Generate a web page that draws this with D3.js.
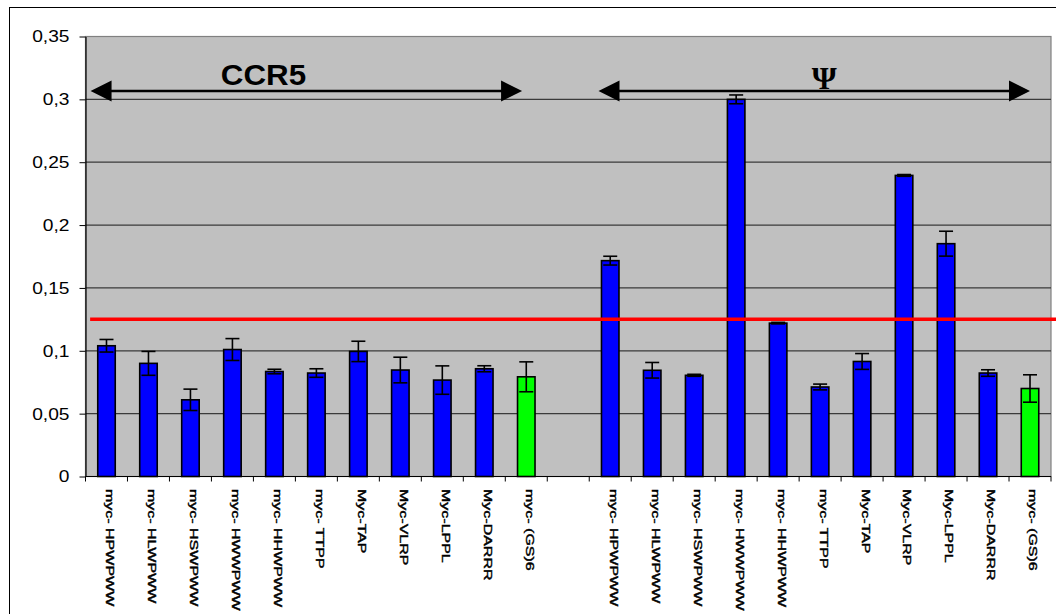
<!DOCTYPE html>
<html>
<head>
<meta charset="utf-8">
<script src="https://cdn.jsdelivr.net/npm/d3@7"></script>
<style>
  html, body { margin: 0; padding: 0; background: #fff; }
  svg { display: block; }
  text { font-family: "Liberation Sans", Arial, sans-serif; fill: #000; }
</style>
</head>
<body>
<svg id="chart" width="1056" height="614"></svg>
<script>
// Peptide constructs, same list for both targets
const peptides = [
  "myc- HPWPWW", "myc- HLWPWW", "myc- HSWPWW", "myc- HWWPWW", "myc- HHWPWW",
  "myc- TTPP", "Myc-TAP", "Myc-VLRP", "Myc-LPPL", "Myc-DARRR", "myc- (GS)6"
];
const groups = ["CCR5", "\u03A8"];

// Mean signal and error bar half-width per construct
const ccr5Values = [0.104, 0.090, 0.061, 0.101, 0.0835, 0.0823, 0.0995, 0.0847, 0.0767, 0.0857, 0.0793];
const ccr5Errors = [0.005, 0.0095, 0.0085, 0.0087, 0.0018, 0.0034, 0.0081, 0.0102, 0.0113, 0.0024, 0.0119];
const psiValues  = [0.1717, 0.0845, 0.0805, 0.300, 0.1220, 0.0712, 0.0915, 0.2395, 0.1852, 0.0823, 0.0700];
const psiErrors  = [0.0035, 0.0062, 0.0008, 0.0035, 0.0006, 0.0023, 0.0063, 0.0007, 0.0099, 0.0026, 0.0109];

// Control construct drawn in green
const controlPeptide = "myc- (GS)6";
const threshold = 0.125;
const yTicks = [0, 0.05, 0.10, 0.15, 0.20, 0.25, 0.30, 0.35];

// Rows: group 1, an empty slot, group 2
const rows = [];
peptides.forEach((p, i) => rows.push({ key: "a" + i, label: p, value: ccr5Values[i], err: ccr5Errors[i] }));
rows.push({ key: "gap", label: "", value: null, err: null });
peptides.forEach((p, i) => rows.push({ key: "b" + i, label: p, value: psiValues[i], err: psiErrors[i] }));

const svg = d3.select("#chart");
const W = 1056;
const plot = { left: 85.5, right: 1051, top: 36.5, bottom: 476.5 };

const x = d3.scaleBand().domain(rows.map(r => r.key)).range([plot.left, plot.right]).paddingInner(0).paddingOuter(0);
const xi = d3.scaleLinear().domain([0, rows.length]).range([plot.left, plot.right]); // slot-index positions
const y = d3.scaleLinear().domain([0, 0.35]).range([plot.bottom, plot.top]);

// Outer chart frame
svg.append("rect").attr("x", 9.5).attr("y", 7.5).attr("width", 1200).attr("height", 1200)
  .attr("fill", "none").attr("stroke", "#000").attr("stroke-width", 1);

// Plot area
svg.append("rect").attr("x", plot.left).attr("y", plot.top)
  .attr("width", plot.right - plot.left).attr("height", plot.bottom - plot.top)
  .attr("fill", "#C0C0C0").attr("stroke", "#808080").attr("stroke-width", 1.2);

// Horizontal gridlines
svg.append("g").selectAll("line").data(yTicks.filter(t => t > 0 && t < 0.35)).join("line")
  .attr("x1", plot.left).attr("x2", plot.right)
  .attr("y1", d => y(d)).attr("y2", d => y(d))
  .attr("stroke", "#3a3a3a").attr("stroke-width", 1.2);

// Y axis
const fmt = d => String(+d.toFixed(2)).replace(".", ",");
const yAxis = svg.append("g").attr("transform", `translate(${plot.left},0)`)
  .call(d3.axisLeft(y).tickValues(yTicks).tickFormat(fmt).tickSize(6).tickSizeOuter(0));
yAxis.select(".domain").attr("stroke", "#000").attr("stroke-width", 1.2);
yAxis.selectAll(".tick line").attr("stroke", "#000").attr("stroke-width", 1);
yAxis.selectAll(".tick text")
  .attr("x", 0).attr("dy", "0.34em")
  .attr("transform", "translate(-16,0) scale(1.2,1)")
  .style("font-family", "'Liberation Sans', Arial, sans-serif")
  .style("font-size", "16px").attr("fill", "#000");

// X axis line and category ticks on slot boundaries
svg.append("line").attr("x1", plot.left).attr("x2", plot.right)
  .attr("y1", plot.bottom).attr("y2", plot.bottom).attr("stroke", "#000").attr("stroke-width", 1.2);
svg.append("g").selectAll("line").data(d3.range(rows.length + 1)).join("line")
  .attr("x1", d => xi(d)).attr("x2", d => xi(d))
  .attr("y1", plot.bottom).attr("y2", plot.bottom + 5)
  .attr("stroke", "#000").attr("stroke-width", 1);

// Bars
const barW = 17.5;
const data = rows.filter(r => r.value !== null);
svg.append("g").selectAll("rect").data(data).join("rect")
  .attr("x", d => x(d.key) + x.bandwidth() / 2 - barW / 2)
  .attr("y", d => y(d.value))
  .attr("width", barW)
  .attr("height", d => y(0) - y(d.value))
  .attr("fill", d => d.label === controlPeptide ? "#00FF00" : "#0000FF")
  .attr("stroke", "#000").attr("stroke-width", 1.6);

// Error bars
const capW = 14;
const eb = svg.append("g").attr("stroke", "#000").attr("stroke-width", 1.6);
data.forEach(d => {
  const cx = x(d.key) + x.bandwidth() / 2;
  eb.append("line").attr("x1", cx).attr("x2", cx).attr("y1", y(d.value + d.err)).attr("y2", y(d.value - d.err));
  eb.append("line").attr("x1", cx - capW / 2).attr("x2", cx + capW / 2).attr("y1", y(d.value + d.err)).attr("y2", y(d.value + d.err));
  eb.append("line").attr("x1", cx - capW / 2).attr("x2", cx + capW / 2).attr("y1", y(d.value - d.err)).attr("y2", y(d.value - d.err));
});

// Threshold line
svg.append("line").attr("x1", xi(0.11)).attr("x2", W)
  .attr("y1", y(threshold)).attr("y2", y(threshold))
  .attr("stroke", "#FF0000").attr("stroke-width", 3.5);

// Category labels, rotated to read downward
svg.append("g").selectAll("text").data(rows.filter(r => r.label)).join("text")
  .attr("transform", d => `translate(${x(d.key) + x.bandwidth() / 2 + 3},489) rotate(90) scale(1,0.68)`)
  .attr("text-anchor", "start").attr("dominant-baseline", "central")
  .style("font-size", "16px")
  .attr("stroke", "#000").attr("stroke-width", 0.6)
  .text(d => d.label);

// Double-headed group arrows
const arrowY = y(0.3066);
const arrows = [
  { from: 0.12, to: 10.4, label: groups[0], labelAt: 4.24 },
  { from: 12.22, to: 22.5, label: groups[1], labelAt: 17.6 }
];
const ag = svg.append("g");
arrows.forEach((a, i) => {
  const x1 = xi(a.from), x2 = xi(a.to), hl = 21, hh = 10.5;
  ag.append("line").attr("x1", x1 + hl - 2).attr("x2", x2 - hl + 2)
    .attr("y1", arrowY).attr("y2", arrowY).attr("stroke", "#000").attr("stroke-width", 2.4);
  ag.append("path").attr("d", `M${x1},${arrowY} L${x1 + hl},${arrowY - hh} L${x1 + hl},${arrowY + hh} Z`).attr("fill", "#000");
  ag.append("path").attr("d", `M${x2},${arrowY} L${x2 - hl},${arrowY - hh} L${x2 - hl},${arrowY + hh} Z`).attr("fill", "#000");
  const t = ag.append("text")
    .attr("text-anchor", "middle")
    .text(a.label);
  if (i === 0) {
    t.attr("transform", `translate(${xi(a.labelAt)},${y(0.3114)}) scale(1.08,1)`)
      .style("font-size", "29px").style("font-weight", "bold");
  } else {
    t.attr("transform", `translate(${xi(a.labelAt)},${y(0.3084)})`)
      .style("font-family", "'Liberation Serif', 'Times New Roman', serif")
      .style("font-size", "32px").style("font-weight", "bold");
  }
});
</script>
</body>
</html>
